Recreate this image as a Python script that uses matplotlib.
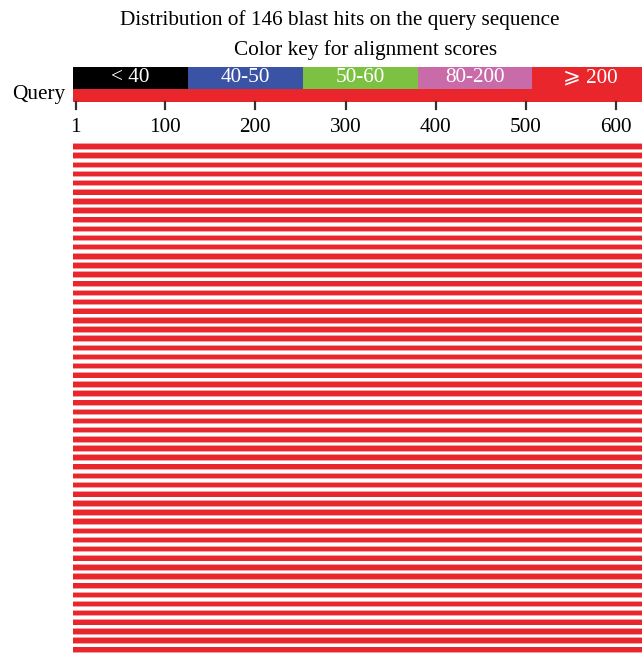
import matplotlib.pyplot as plt
import numpy as np

plt.rcParams['font.family'] = ['Liberation Serif', 'DejaVu Serif', 'DejaVu Sans']

# color key for alignment scores
key_labels = ["< 40", "40-50", "50-60", "80-200", "\u2a7e 200"]
key_colors = ["#000000", "#3a53a4", "#7dc142", "#c96ba9", "#e8262b"]

# query axis
query_len = 660
tick_pos = [1, 100, 200, 300, 400, 500, 600]

# 146 hits, 56 visible in the picture, all spanning the full query
n_hits = 56
hit_start = np.ones(n_hits)
hit_end = np.full(n_hits, 660.0)
hit_color = "#e8262b"

fig = plt.figure(figsize=(6.42, 6.53), dpi=100)
ax = fig.add_axes([0, 0, 1, 1])
# x in sequence units, y in pixel rows (top down)
ax.set_xlim(-83.1, 628.6)
ax.set_ylim(653, 0)
ax.axis("off")

fs = 15.3
ax.text(340 / 642, 20, "Distribution of 146 blast hits on the query sequence",
        transform=ax.get_yaxis_transform(), ha="center", va="center", fontsize=fs)
ax.text(366 / 642, 50, "Color key for alignment scores",
        transform=ax.get_yaxis_transform(), ha="center", va="center", fontsize=fs)

# key boxes
kw = 127.3
for i, (lab, col) in enumerate(zip(key_labels, key_colors)):
    x0 = -2 + i * kw
    ax.barh(78, kw if i < 4 else 200, left=x0, height=22, color=col, align="center")
    ax.text(x0 + kw / 2, 78, lab, ha="center", va="center", color="white", fontsize=fs)

# query bar
ax.barh(95.5, query_len, left=-2, height=13, color="#e8262b")
ax.text(-11, 94, "Query", ha="right", va="center", fontsize=fs)

# ticks
for t in tick_pos:
    ax.plot([t, t], [102, 109], color="#333333", lw=1.6)
    ax.text(t, 127, str(t), ha="center", va="center", fontsize=fs)

# hits
pitch = 9.15
rows = 146.5 + np.arange(n_hits) * pitch
ax.barh(rows, hit_end - hit_start + 3, left=hit_start - 3, height=6.4, color="#f4a0a0")
ax.barh(rows, hit_end - hit_start + 3, left=hit_start - 3, height=4.6, color=hit_color)

fig.savefig("out.png", dpi=100)
